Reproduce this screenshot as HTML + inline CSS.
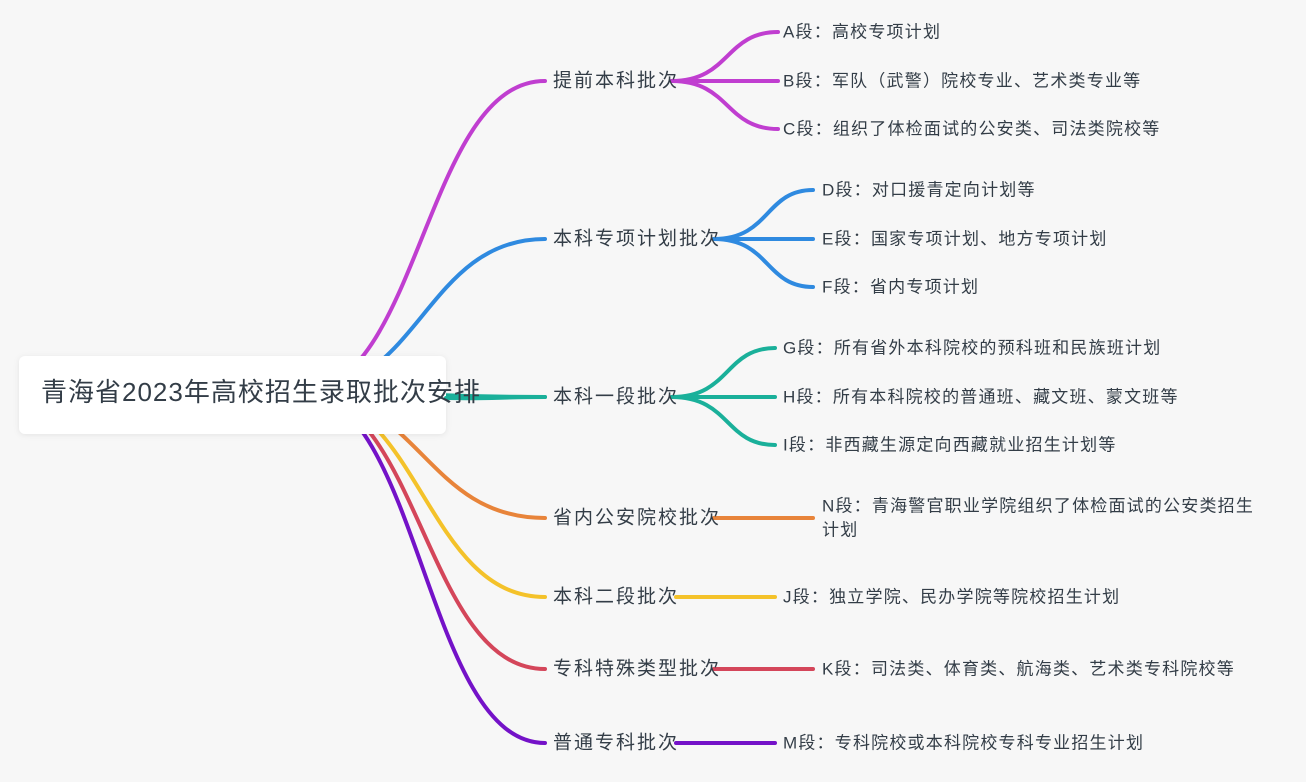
<!DOCTYPE html>
<html><head><meta charset="utf-8"><style>
html,body{margin:0;padding:0;background:#f7f7f7;}
svg{display:block;}
text{font-family:"Liberation Sans","Noto Sans CJK SC",sans-serif;fill:#333d47;dominant-baseline:central;}
.b{font-size:19px;letter-spacing:2px;}
.l{font-size:17px;letter-spacing:1.2px;}
.r{font-size:26px;letter-spacing:1px;}
path{fill:none;stroke-width:4;stroke-linecap:round;}
</style></head><body>
<svg width="1306" height="782" viewBox="0 0 1306 782">
<path d="M300 392 C420 392 425 81 545 81" stroke="#c03ed0"/>
<path d="M300 392 C420 392 425 239 545 239" stroke="#2f8ae0"/>
<path d="M300 392 C420 392 425 397 545 397" stroke="#1ab09a"/>
<path d="M300 392 C420 392 425 518 545 518" stroke="#e8843a"/>
<path d="M300 392 C420 392 425 597 545 597" stroke="#f4c22a"/>
<path d="M300 392 C420 392 425 669 545 669" stroke="#d4465a"/>
<path d="M300 392 C420 392 425 743 545 743" stroke="#7412c8"/>
<rect x="19" y="356" width="427" height="78" rx="6" fill="#fff" style="filter:drop-shadow(0 1px 3px rgba(0,0,0,0.08))"/>
<path d="M446 398 C490 399 500 397 545 397" stroke="#1ab09a"/>
<text x="41" y="392" class="r">青海省2023年高校招生录取批次安排</text>
<path d="M672 81 C730 81 725 32 778 32" stroke="#c03ed0"/>
<path d="M672 81 L778 81" stroke="#c03ed0"/>
<path d="M672 81 C730 81 725 129 778 129" stroke="#c03ed0"/>
<path d="M714 239 C770 239 765 190 813 190" stroke="#2f8ae0"/>
<path d="M714 239 L813 239" stroke="#2f8ae0"/>
<path d="M714 239 C770 239 765 287 813 287" stroke="#2f8ae0"/>
<path d="M672 397 C730 397 725 348 775 348" stroke="#1ab09a"/>
<path d="M672 397 L775 397" stroke="#1ab09a"/>
<path d="M672 397 C730 397 725 445 775 445" stroke="#1ab09a"/>
<path d="M714 518 L813 518" stroke="#e8843a"/>
<path d="M676 597 L775 597" stroke="#f4c22a"/>
<path d="M714 669 L813 669" stroke="#d4465a"/>
<path d="M676 743 L775 743" stroke="#7412c8"/>
<text x="553" y="81" class="b">提前本科批次</text>
<text x="553" y="239" class="b">本科专项计划批次</text>
<text x="553" y="397" class="b">本科一段批次</text>
<text x="553" y="518" class="b">省内公安院校批次</text>
<text x="553" y="597" class="b">本科二段批次</text>
<text x="553" y="669" class="b">专科特殊类型批次</text>
<text x="553" y="743" class="b">普通专科批次</text>
<text x="783" y="32" class="l">A段：高校专项计划</text>
<text x="783" y="81" class="l">B段：军队（武警）院校专业、艺术类专业等</text>
<text x="783" y="129" class="l">C段：组织了体检面试的公安类、司法类院校等</text>
<text x="822" y="190" class="l">D段：对口援青定向计划等</text>
<text x="822" y="239" class="l">E段：国家专项计划、地方专项计划</text>
<text x="822" y="287" class="l">F段：省内专项计划</text>
<text x="783" y="348" class="l">G段：所有省外本科院校的预科班和民族班计划</text>
<text x="783" y="397" class="l">H段：所有本科院校的普通班、藏文班、蒙文班等</text>
<text x="783" y="445" class="l">I段：非西藏生源定向西藏就业招生计划等</text>
<text x="822" y="506" class="l">N段：青海警官职业学院组织了体检面试的公安类招生</text>
<text x="822" y="530" class="l">计划</text>
<text x="783" y="597" class="l">J段：独立学院、民办学院等院校招生计划</text>
<text x="822" y="669" class="l">K段：司法类、体育类、航海类、艺术类专科院校等</text>
<text x="783" y="743" class="l">M段：专科院校或本科院校专科专业招生计划</text>
</svg>
</body></html>
